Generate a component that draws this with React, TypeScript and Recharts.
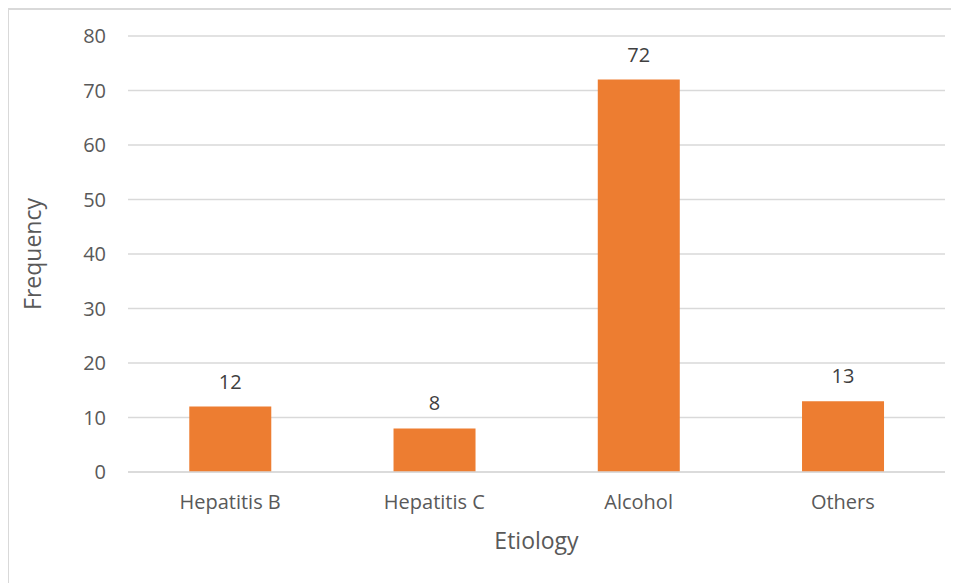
import { BarChart, Bar, XAxis, YAxis, CartesianGrid, LabelList } from "recharts";

const categories = ["Hepatitis B", "Hepatitis C", "Alcohol", "Others"];
const frequency = [12, 8, 72, 13];
const yTicks = [0, 10, 20, 30, 40, 50, 60, 70, 80];

const data = categories.map((name, i) => ({ name, value: frequency[i] }));

const font = "'Open Sans', 'Liberation Sans', sans-serif";

export default function App() {
    return (
        <div
            style={{
                width: 951,
                height: 575,
                borderLeft: "2px solid #D9D9D9",
                borderTop: "2px solid #D9D9D9",
                boxSizing: "border-box",
                marginLeft: -1,
                background: "#fff",
            }}
        >
            <BarChart
                width={949}
                height={573}
                data={data}
                margin={{ top: 26, right: 13, left: 0, bottom: 28 }}
                barCategoryGap="30%"
            >
                <CartesianGrid vertical={false} stroke="#D9D9D9" strokeWidth={1.3} />
                <XAxis
                    dataKey="name"
                    axisLine={{ stroke: "#D9D9D9", strokeWidth: 1.3 }}
                    tickLine={false}
                    tickSize={0}
                    tickMargin={23}
                    height={83}
                    tick={{ fontSize: 20, fill: "#595959", fontFamily: font }}
                    label={{
                        value: "Etiology",
                        position: "insideBottom",
                        offset: 6,
                        fontSize: 23,
                        fill: "#595959",
                        fontFamily: font,
                    }}
                />
                <YAxis
                    type="number"
                    domain={[0, 80]}
                    ticks={yTicks}
                    interval={0}
                    axisLine={false}
                    tickLine={false}
                    tickSize={0}
                    tickMargin={22}
                    width={119}
                    tick={{ fontSize: 20, fill: "#595959", fontFamily: font }}
                    label={{
                        value: "Frequency",
                        angle: -90,
                        position: "insideLeft",
                        offset: 24,
                        fontSize: 23,
                        fill: "#595959",
                        fontFamily: font,
                        style: { textAnchor: "middle" },
                    }}
                />
                <Bar dataKey="value" fill="#ED7D31" isAnimationActive={false}>
                    <LabelList
                        dataKey="value"
                        position="top"
                        offset={18}
                        fontSize={20}
                        fill="#404040"
                        fontFamily={font}
                    />
                </Bar>
            </BarChart>
        </div>
    );
}
